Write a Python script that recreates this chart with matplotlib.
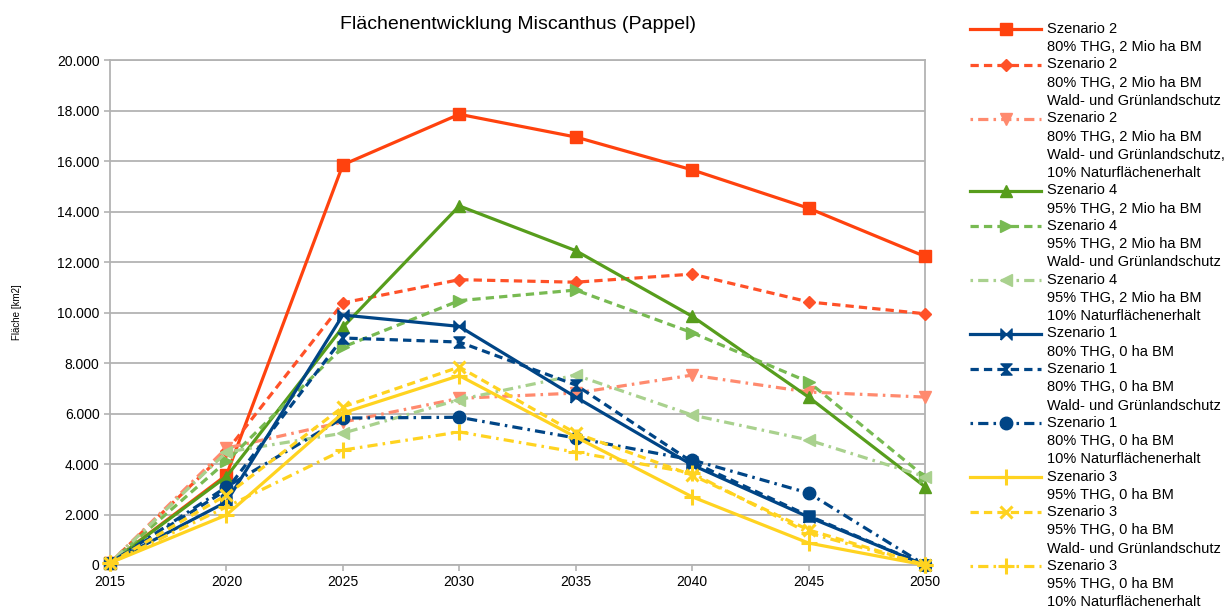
#%% Imports
import numpy as np
import matplotlib
matplotlib.use('Agg')
import matplotlib.pyplot as plt
from matplotlib.legend_handler import HandlerLine2D
from matplotlib.ticker import FuncFormatter, MultipleLocator

#%% Data (Fläche in km2)
years = [2015, 2020, 2025, 2030, 2035, 2040, 2045, 2050]

s2_a = [80, 3560, 15850, 17850, 16950, 15650, 14130, 12220]
s2_b = [80, 4500, 10380, 11300, 11200, 11520, 10420, 9950]
s2_c = [80, 4630, 5660, 6600, 6810, 7520, 6850, 6650]
s4_a = [80, 3500, 9420, 14220, 12450, 9850, 6650, 3100]
s4_b = [80, 4100, 8630, 10470, 10890, 9200, 7250, 3490]
s4_c = [80, 4470, 5220, 6550, 7520, 5940, 4950, 3500]
s1_a = [80, 2500, 9900, 9450, 6650, 3960, 1900, 0]
s1_b = [80, 2970, 8990, 8830, 7130, 4080, 1950, 0]
s1_c = [80, 3090, 5820, 5850, 5030, 4160, 2850, 0]
s3_a = [80, 1980, 6020, 7500, 5070, 2700, 870, 0]
s3_b = [80, 2770, 6260, 7840, 5220, 3560, 1390, 0]
s3_c = [80, 2300, 4550, 5270, 4470, 3640, 1270, 0]

labels = [
    'Szenario 2\n80% THG, 2 Mio ha BM',
    'Szenario 2\n80% THG, 2 Mio ha BM\nWald- und Grünlandschutz',
    'Szenario 2\n80% THG, 2 Mio ha BM\nWald- und Grünlandschutz,\n10% Naturflächenerhalt',
    'Szenario 4\n95% THG, 2 Mio ha BM',
    'Szenario 4\n95% THG, 2 Mio ha BM\nWald- und Grünlandschutz',
    'Szenario 4\n95% THG, 2 Mio ha BM\n10% Naturflächenerhalt',
    'Szenario 1\n80% THG, 0 ha BM',
    'Szenario 1\n80% THG, 0 ha BM\nWald- und Grünlandschutz',
    'Szenario 1\n80% THG, 0 ha BM\n10% Naturflächenerhalt',
    'Szenario 3\n95% THG, 0 ha BM',
    'Szenario 3\n95% THG, 0 ha BM\nWald- und Grünlandschutz',
    'Szenario 3\n95% THG, 0 ha BM\n10% Naturflächenerhalt',
]
series = [s2_a, s2_b, s2_c, s4_a, s4_b, s4_c, s1_a, s1_b, s1_c, s3_a, s3_b, s3_c]

#%% Styles
red, red_l, red_ll = '#ff420e', '#ff5128', '#ff8a6e'
green, green_l, green_ll = '#579d1c', '#78ba52', '#a9d18e'
navy = '#004586'
yellow = '#ffd320'

dashed = (0, (2.6, 1.6))
dashdot = (0, (0.8, 1.6, 3.2, 1.6))
bowtie = [(-1, -1), (-1, 1), (1, -1), (1, 1), (-1, -1)]
hourglass = [(-1, -1), (1, -1), (-1, 1), (1, 1), (-1, -1)]

styles = [
    dict(color=red, ls='-', marker='s', ms=9),
    dict(color=red_l, ls=dashed, marker='D', ms=6.5),
    dict(color=red_ll, ls=dashdot, marker='v', ms=9),
    dict(color=green, ls='-', marker='^', ms=9),
    dict(color=green_l, ls=dashed, marker='>', ms=9),
    dict(color=green_ll, ls=dashdot, marker='<', ms=9),
    dict(color=navy, ls='-', marker=bowtie, ms=8),
    dict(color=navy, ls=dashed, marker=hourglass, ms=8),
    dict(color=navy, ls=dashdot, marker='o', ms=9),
    dict(color=yellow, ls='-', marker='+', ms=11, mew=2.2),
    dict(color=yellow, ls=dashed, marker='x', ms=9, mew=2.2),
    dict(color=yellow, ls=dashdot, marker='+', ms=11, mew=2.2),
]

font = 'Liberation Sans'
plt.rcParams['font.family'] = [font, 'DejaVu Sans']
grid_col = '#b3b3b3'
leg_fs = 10.5
leg_ls = 1.39

#%% Figure
fig = plt.figure(figsize=(12.3, 6.12), dpi=100)
ax = fig.add_axes([110 / 1230, 47 / 612, 815 / 1230, 505 / 612])

lines = []
for vals, st in zip(series, styles):
    ln, = ax.plot(years, vals, lw=2.3, clip_on=False, zorder=3, **st)
    lines.append(ln)

ax.set_xlim(2015, 2050)
ax.set_ylim(0, 20000)
ax.xaxis.set_major_locator(MultipleLocator(5))
ax.yaxis.set_major_locator(MultipleLocator(2000))
ax.yaxis.set_major_formatter(FuncFormatter(lambda v, p: f'{int(v):,}'.replace(',', '.')))
ax.grid(axis='y', color=grid_col, lw=1.3)
ax.set_axisbelow(True)
for sp in ax.spines.values():
    sp.set_color(grid_col)
    sp.set_linewidth(1.3)
ax.tick_params(colors=grid_col, labelcolor='black', labelsize=10, length=4, width=1.2)

ax.set_title('Flächenentwicklung Miscanthus (Pappel)', fontsize=14, pad=22)
ax.set_ylabel('Fläche [km2]', fontsize=7)
ax.yaxis.set_label_coords(-88 / 815, 0.5)

#%% Legend with handles aligned to the first text line
tmp1 = fig.text(0, 0, 'A', fontsize=leg_fs, linespacing=leg_ls)
tmp3 = fig.text(0, 0, 'A\nA\nA', fontsize=leg_fs, linespacing=leg_ls)
r = fig.canvas.get_renderer()
step_pt = (tmp3.get_window_extent(r).height - tmp1.get_window_extent(r).height) / 2 * 72 / fig.dpi
tmp1.remove()
tmp3.remove()


class FirstLineHandler(HandlerLine2D):
    def __init__(self, nlines, **kw):
        super().__init__(**kw)
        self.shift = (nlines - 1) / 2 * step_pt

    def create_artists(self, legend, orig_handle, xdescent, ydescent, width, height, fontsize, trans):
        artists = super().create_artists(legend, orig_handle, xdescent, ydescent, width, height, fontsize, trans)
        for a in artists:
            a.set_ydata(np.asarray(a.get_ydata(), dtype=float) + self.shift)
        return artists


hmap = {ln: FirstLineHandler(lab.count('\n') + 1) for ln, lab in zip(lines, labels)}
leg = fig.legend(lines, labels, loc='upper left', bbox_to_anchor=(970 / 1230, 1 - 22 / 612),
                 frameon=False, fontsize=leg_fs, borderpad=0, borderaxespad=0,
                 handlelength=4.9, handletextpad=0.35, labelspacing=0.22,
                 handler_map=hmap)
for t in leg.get_texts():
    t.set_linespacing(leg_ls)

fig.savefig('out.png', dpi=100)
